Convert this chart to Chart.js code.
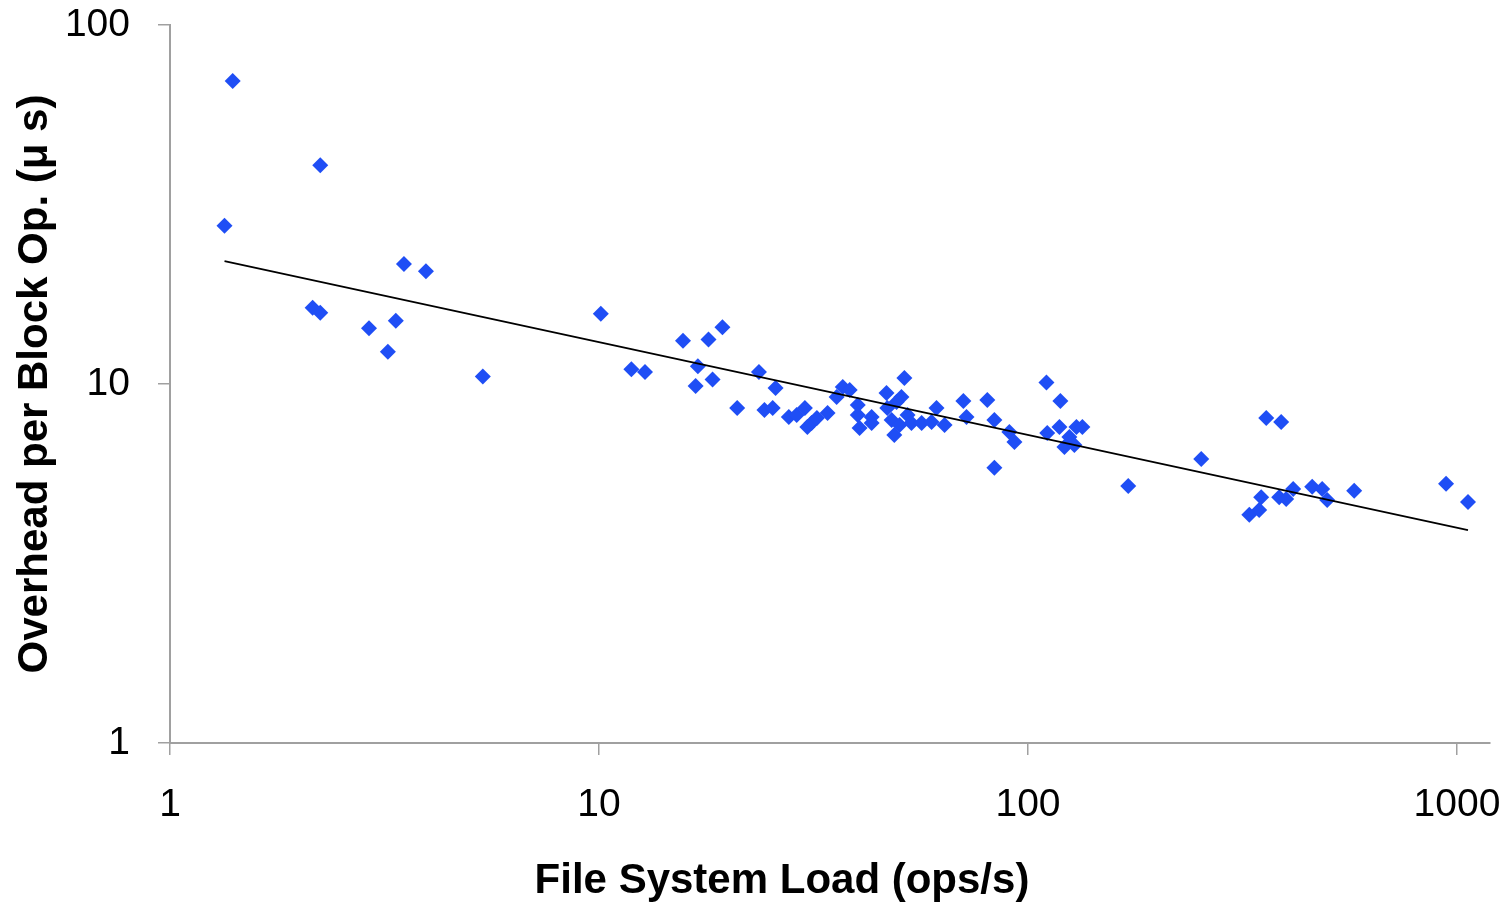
<!DOCTYPE html>
<html>
<head>
<meta charset="utf-8">
<title>Overhead per Block Op. vs File System Load</title>
<script src="https://cdn.jsdelivr.net/npm/chart.js@4.4.0/dist/chart.umd.min.js"></script>
<style>
  html, body { margin: 0; padding: 0; background: #fff; }
  #wrap { width: 1511px; height: 904px; position: relative; }
</style>
</head>
<body>
<div id="wrap"><canvas id="overheadChart"></canvas></div>
<script>
// file system load (ops/s) for each measurement
const loadX = [
  1.40, 1.34, 2.24, 2.15, 2.24, 2.91, 3.22, 3.36, 3.51, 3.95,
  5.36, 10.1, 11.9, 12.8, 15.7, 16.8, 17.0, 18.0, 18.4, 19.4,
  21.0, 23.6, 24.3, 25.4, 25.8, 27.7, 28.9, 30.2, 30.6, 31.3,
  32.2, 34.1, 35.8, 37.0, 38.4, 40.1, 40.1, 40.5, 43.2, 43.2,
  46.8, 47.0, 48.1, 48.8, 49.4, 50.2, 50.7, 51.5, 52.4, 53.5,
  56.5, 59.6, 61.2, 63.9, 70.7, 71.9, 80.4, 83.5, 83.5, 90.5,
  93.0, 110.4, 110.9, 118.4, 119.0, 121.6, 124.9, 128.3, 129.7, 133.9,
  171.3, 253.5, 328.0, 345.9, 349.7, 359.3, 385.1, 389.3, 399.9, 415.2,
  459.7, 485.1, 498.3, 575.9, 943.2, 1061
];

// overhead per block op (µs)
const overheadY = [
  69.8, 27.6, 40.7, 16.3, 15.8, 14.3, 12.3, 15.0, 21.6, 20.6,
  10.5, 15.7, 11.0, 10.8, 13.2, 9.87, 11.2, 13.3, 10.3, 14.4,
  8.58, 10.8, 8.47, 8.58, 9.75, 8.09, 8.20, 8.58, 7.59, 7.79,
  8.04, 8.30, 9.20, 9.81, 9.62, 8.74, 8.20, 7.54, 8.09, 7.79,
  9.44, 8.58, 7.94, 7.21, 8.91, 7.69, 9.20, 10.4, 8.20, 7.79,
  7.79, 7.84, 8.58, 7.69, 8.97, 8.09, 9.03, 7.94, 5.84, 7.35,
  6.89, 10.1, 7.30, 7.59, 8.97, 6.68, 7.12, 6.76, 7.59, 7.59,
  5.20, 6.18, 4.32, 4.46, 4.84, 8.04, 4.84, 7.84, 4.78, 5.10,
  5.17, 5.10, 4.75, 5.04, 5.27, 4.69
];

// power trend line, read at both ends
const trendX = [1.34, 1061];
const trendY = [22.0, 3.92];

const xTicks = [1, 10, 100, 1000];
const yTicks = [1, 10, 100];

const axisGrey = '#a0a0a0';
const pointBlue = '#1f4ef5';
const fontFamily = '"Liberation Sans", Arial, Helvetica, sans-serif';

function toPoints(xs, ys) {
  return xs.map((x, i) => ({ x: x, y: ys[i] }));
}

// x title sits left of the plot centre in the original, so draw it by hand
const xTitlePlugin = {
  id: 'xTitle',
  afterDraw(chart) {
    const ctx = chart.ctx;
    ctx.save();
    ctx.font = 'bold 42px ' + fontFamily;
    ctx.fillStyle = '#000';
    ctx.textAlign = 'center';
    ctx.textBaseline = 'alphabetic';
    ctx.fillText('File System Load (ops/s)', 782, 893);
    ctx.restore();
  }
};

const ctx = document.getElementById('overheadChart').getContext('2d');

new Chart(ctx, {
  type: 'scatter',
  data: {
    datasets: [
      {
        label: 'Trend',
        data: toPoints(trendX, trendY),
        showLine: true,
        borderColor: '#000',
        borderWidth: 1.8,
        pointRadius: 0,
        fill: false,
        order: 0
      },
      {
        label: 'Overhead',
        data: toPoints(loadX, overheadY),
        pointStyle: 'rectRot',
        pointRadius: 8,
        backgroundColor: pointBlue,
        borderColor: pointBlue,
        borderWidth: 0,
        order: 1
      }
    ]
  },
  options: {
    responsive: true,
    maintainAspectRatio: false,
    animation: false,
    layout: {
      padding: { top: 25, right: 21, bottom: 0, left: 0 }
    },
    plugins: {
      legend: { display: false },
      tooltip: { enabled: false }
    },
    scales: {
      x: {
        type: 'logarithmic',
        min: 1,
        max: 1194,
        bounds: 'data',
        afterBuildTicks: (scale) => {
          scale.ticks = xTicks.map(v => ({ value: v }));
        },
        afterFit: (scale) => {
          scale.height = 161;
          scale.paddingLeft = 0;
          scale.paddingRight = 0;
        },
        border: { display: true, color: axisGrey, width: 2 },
        grid: {
          drawOnChartArea: false,
          drawTicks: true,
          tickLength: 12,
          color: axisGrey,
          lineWidth: 1.5
        },
        ticks: {
          autoSkip: false,
          maxRotation: 0,
          padding: 27,
          color: '#000',
          font: { family: fontFamily, size: 39 },
          callback: (v) => String(v)
        }
      },
      y: {
        type: 'logarithmic',
        min: 1,
        max: 100,
        bounds: 'data',
        afterBuildTicks: (scale) => {
          scale.ticks = yTicks.map(v => ({ value: v }));
        },
        afterFit: (scale) => {
          scale.width = 170;
          scale.paddingTop = 0;
          scale.paddingBottom = 0;
        },
        border: { display: true, color: axisGrey, width: 2 },
        grid: {
          drawOnChartArea: false,
          drawTicks: true,
          tickLength: 12,
          color: axisGrey,
          lineWidth: 1.5
        },
        ticks: {
          autoSkip: false,
          padding: 28,
          color: '#000',
          font: { family: fontFamily, size: 39 },
          callback: (v) => String(v)
        },
        title: {
          display: true,
          text: 'Overhead per Block Op. (μ s)',
          color: '#000',
          font: { family: fontFamily, size: 42, weight: 'bold' },
          padding: { top: 10, bottom: 0 }
        }
      }
    }
  },
  plugins: [xTitlePlugin]
});
</script>
</body>
</html>
